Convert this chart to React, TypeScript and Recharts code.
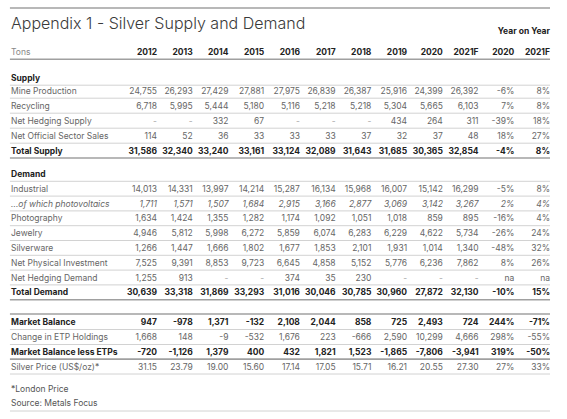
import { ScatterChart, Scatter, XAxis, YAxis, ReferenceLine } from 'recharts'

const years = ['2012', '2013', '2014', '2015', '2016', '2017', '2018', '2019', '2020', '2021F']
const yoyYears = ['2020', '2021F']

// supply (tons)
const mineProduction = [24755, 26293, 27429, 27881, 27975, 26839, 26387, 25916, 24399, 26392]
const recycling = [6718, 5995, 5444, 5180, 5116, 5218, 5218, 5304, 5665, 6103]
const netHedgingSupply = [null, null, 332, 67, null, null, null, 434, 264, 311]
const officialSales = [114, 52, 36, 33, 33, 33, 37, 32, 37, 48]
const totalSupply = [31586, 32340, 33240, 33161, 33124, 32089, 31643, 31685, 30365, 32854]

// demand (tons)
const industrial = [14013, 14331, 13997, 14214, 15287, 16134, 15968, 16007, 15142, 16299]
const photovoltaics = [1711, 1571, 1507, 1684, 2915, 3166, 2877, 3069, 3142, 3267]
const photography = [1634, 1424, 1355, 1282, 1174, 1092, 1051, 1018, 859, 895]
const jewelry = [4946, 5812, 5998, 6272, 5859, 6074, 6283, 6229, 4622, 5734]
const silverware = [1266, 1447, 1666, 1802, 1677, 1853, 2101, 1931, 1014, 1340]
const physicalInvestment = [7525, 9391, 8853, 9723, 6645, 4858, 5152, 5776, 6236, 7862]
const netHedgingDemand = [1255, 913, null, null, 374, 35, 230, null, null, null]
const totalDemand = [30639, 33318, 31869, 33293, 31016, 30046, 30785, 30960, 27872, 32130]

// balance
const marketBalance = [947, -978, 1371, -132, 2108, 2044, 858, 725, 2493, 724]
const etpChange = [1668, 148, -9, -532, 1676, 223, -666, 2590, 10299, 4666]
const balanceLessEtp = [-720, -1126, 1379, 400, 432, 1821, 1523, -1865, -7806, -3941]
const silverPrice = [31.15, 23.79, 19.0, 15.6, 17.14, 17.05, 15.71, 16.21, 20.55, 27.3]

// year on year change, %
const yoyMine = [-6, 8]
const yoyRecycling = [7, 8]
const yoyHedgingSupply = [-39, 18]
const yoyOfficial = [18, 27]
const yoyTotalSupply = [-4, 8]
const yoyIndustrial = [-5, 8]
const yoyPhotovoltaics = [2, 4]
const yoyPhotography = [-16, 4]
const yoyJewelry = [-26, 24]
const yoySilverware = [-48, 32]
const yoyInvestment = [8, 26]
const yoyHedgingDemand = ['na', 'na']
const yoyTotalDemand = [-10, 15]
const yoyBalance = [244, -71]
const yoyEtp = [298, -55]
const yoyBalanceLessEtp = [319, -50]
const yoyPrice = [27, 33]

type Kind = 'title' | 'yoyHead' | 'head' | 'section' | 'item' | 'italic' | 'bold' | 'foot'
type Rule = 'thin' | 'thick'

interface Row {
  label: string
  kind: Kind
  gap: number
  values?: (number | null)[]
  yoy?: (number | string)[]
  decimals?: number
  rule?: Rule
}

const rows: Row[] = [
  { label: 'Appendix 1 - Silver Supply and Demand', kind: 'title', gap: 23 },
  { label: '', kind: 'yoyHead', gap: 8 },
  { label: 'Tons', kind: 'head', gap: 21, rule: 'thick' },
  { label: 'Supply', kind: 'section', gap: 26, rule: 'thin' },
  { label: 'Mine Production', kind: 'item', gap: 13, values: mineProduction, yoy: yoyMine, rule: 'thin' },
  { label: 'Recycling', kind: 'item', gap: 15, values: recycling, yoy: yoyRecycling, rule: 'thin' },
  { label: 'Net Hedging Supply', kind: 'item', gap: 15, values: netHedgingSupply, yoy: yoyHedgingSupply, rule: 'thin' },
  { label: 'Net Official Sector Sales', kind: 'item', gap: 15, values: officialSales, yoy: yoyOfficial, rule: 'thin' },
  { label: 'Total Supply', kind: 'bold', gap: 14.8, values: totalSupply, yoy: yoyTotalSupply, rule: 'thick' },
  { label: 'Demand', kind: 'section', gap: 23.3, rule: 'thin' },
  { label: 'Industrial', kind: 'item', gap: 14.8, values: industrial, yoy: yoyIndustrial, rule: 'thin' },
  { label: '...of which photovoltaics', kind: 'italic', gap: 14.8, values: photovoltaics, yoy: yoyPhotovoltaics, rule: 'thin' },
  { label: 'Photography', kind: 'item', gap: 14.8, values: photography, yoy: yoyPhotography, rule: 'thin' },
  { label: 'Jewelry', kind: 'item', gap: 14.8, values: jewelry, yoy: yoyJewelry, rule: 'thin' },
  { label: 'Silverware', kind: 'item', gap: 14.8, values: silverware, yoy: yoySilverware, rule: 'thin' },
  { label: 'Net Physical Investment', kind: 'item', gap: 14.8, values: physicalInvestment, yoy: yoyInvestment, rule: 'thin' },
  { label: 'Net Hedging Demand', kind: 'item', gap: 14.8, values: netHedgingDemand, yoy: yoyHedgingDemand, rule: 'thin' },
  { label: 'Total Demand', kind: 'bold', gap: 14.8, values: totalDemand, yoy: yoyTotalDemand, rule: 'thick' },
  { label: 'Market Balance', kind: 'bold', gap: 29.8, values: marketBalance, yoy: yoyBalance, rule: 'thin' },
  { label: 'Change in ETP Holdings', kind: 'item', gap: 15, values: etpChange, yoy: yoyEtp, rule: 'thin' },
  { label: 'Market Balance less ETPs', kind: 'bold', gap: 14.6, values: balanceLessEtp, yoy: yoyBalanceLessEtp, rule: 'thick' },
  { label: 'Silver Price (US$/oz)*', kind: 'item', gap: 14.9, values: silverPrice, yoy: yoyPrice, decimals: 2, rule: 'thin' },
  { label: '*London Price', kind: 'foot', gap: 22.6 },
  { label: 'Source: Metals Focus', kind: 'foot', gap: 14 },
]

const W = 567
const H = 419
// value columns are 1..12, label column sits to the left of them
const COL_MIN = -3.394
const COL_MAX = 12.475
const LABEL_COL = -3.086
const RULE_BELOW = 7.2
const FONT = 'Inter, "Noto Sans", sans-serif'

const fmt = (v: number | null, d = 0) =>
  v === null ? '-' : v.toLocaleString('en-US', { minimumFractionDigits: d, maximumFractionDigits: d })

const fmtPct = (v: number | string) => (typeof v === 'string' ? v : `${v}%`)

interface Cell {
  col: number
  y: number
  text: string
  kind: Kind | 'dash'
}

const cells: Cell[] = []
const rules: { y: number; rule: Rule }[] = [{ y: 8, rule: 'thick' }]
let cursor = 0
rows.forEach((r) => {
  cursor += r.gap
  const y = cursor
  if (r.label) cells.push({ col: LABEL_COL, y, text: r.label, kind: r.kind })
  if (r.kind === 'yoyHead') cells.push({ col: 12, y, text: 'Year on Year', kind: 'bold' })
  if (r.kind === 'head') {
    ;[...years, ...yoyYears].forEach((t, i) => cells.push({ col: i + 1, y, text: t, kind: 'bold' }))
  }
  r.values?.forEach((v, i) =>
    cells.push({ col: i + 1, y, text: fmt(v, r.decimals), kind: v === null ? 'dash' : r.kind })
  )
  r.yoy?.forEach((v, i) => cells.push({ col: years.length + i + 1, y, text: fmtPct(v), kind: r.kind }))
  if (r.label === 'Market Balance') rules.push({ y: y - 8.3, rule: 'thick' })
  if (r.rule) rules.push({ y: y + RULE_BELOW, rule: r.rule })
})
rules.push({ y: 411, rule: 'thin' })

const styleFor = (kind: Cell['kind']) => {
  switch (kind) {
    case 'title':
      return { fontSize: 16, fontWeight: 300, fill: '#3a3a3a' }
    case 'head':
      return { fontSize: 8.5, fontWeight: 400, fill: '#888' }
    case 'section':
    case 'bold':
    case 'yoyHead':
      return { fontSize: 8.5, fontWeight: 700, fill: '#222' }
    case 'italic':
      return { fontSize: 8.5, fontWeight: 400, fill: '#666', fontStyle: 'italic' }
    case 'dash':
      return { fontSize: 8.5, fontWeight: 400, fill: '#aaa' }
    case 'foot':
      return { fontSize: 8.5, fontWeight: 400, fill: '#555' }
    default:
      return { fontSize: 8.5, fontWeight: 400, fill: '#666' }
  }
}

const CellText = (props: any) => {
  const { cx, cy, payload } = props
  const c = payload as Cell
  return (
    <text
      x={cx}
      y={cy}
      dy="0.35em"
      textAnchor={c.col === LABEL_COL ? 'start' : 'end'}
      fontFamily={FONT}
      {...styleFor(c.kind)}
    >
      {c.text}
    </text>
  )
}

export default function App() {
  return (
    <div style={{ position: 'absolute', left: 0, top: 0, width: W, height: H, background: '#fff' }}>
      <ScatterChart width={W} height={H} margin={{ top: 0, right: 0, bottom: 0, left: 0 }}>
        <XAxis type="number" dataKey="col" domain={[COL_MIN, COL_MAX]} allowDataOverflow hide />
        <YAxis type="number" dataKey="y" domain={[0, H]} reversed allowDataOverflow hide />
        {rules.map((r, i) => (
          <ReferenceLine
            key={i}
            segment={[
              { x: LABEL_COL - 0.03, y: r.y },
              { x: 12, y: r.y },
            ]}
            stroke={r.rule === 'thick' ? '#a0a0a0' : '#d2d2d2'}
            strokeWidth={r.rule === 'thick' ? 1.6 : 1}
            ifOverflow="visible"
          />
        ))}
        <Scatter data={cells} shape={CellText} isAnimationActive={false} />
      </ScatterChart>
    </div>
  )
}
